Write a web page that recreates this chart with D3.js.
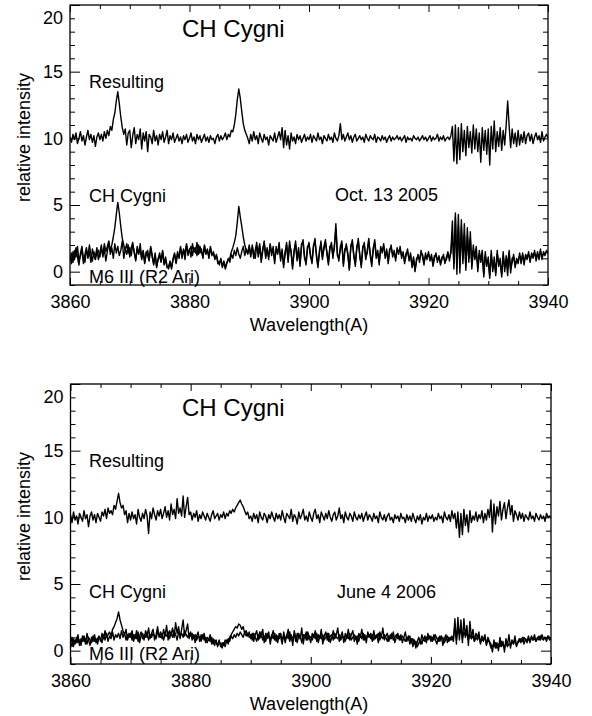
<!DOCTYPE html>
<html>
<head>
<meta charset="utf-8">
<script src="https://cdn.jsdelivr.net/npm/d3@7/dist/d3.min.js"></script>
<style>
  body { margin:0; background:#fff; }
  svg text { font-family: 'Liberation Sans', Arial, sans-serif; fill:#000; }
</style>
</head>
<body>
<div id="viz-container"></div>
<script>
// spectra are sampled every 0.25 A from 3860 A
let wlStart = 3860;
let wlStep = 0.25;

let xTicks = [3860, 3880, 3900, 3920, 3940];
let yTicks = [0, 5, 10, 15, 20];

// ---- Oct. 13 2005 ----
let resultOct = [
  10.1,9.7,10.3,9.9,10.4,9.6,10.0,10.5,9.8,10.2,9.5,10.1,10.6,9.9,10.3,9.7,10.2,9.4,10.1,10.4,
  9.9,10.3,9.8,10.5,10.0,10.6,10.2,10.9,10.6,11.4,11.9,12.8,13.5,12.6,11.6,10.8,10.3,10.7,9.5,10.4,
  10.6,9.3,10.2,10.8,9.6,10.3,9.9,10.7,9.2,10.4,9.8,10.5,9.0,10.3,10.1,9.6,10.6,9.8,10.2,9.5,
  10.3,9.9,10.5,9.7,10.1,10.6,9.6,10.2,9.9,10.4,9.7,10.0,10.3,9.8,10.1,9.6,10.2,9.9,10.3,9.7,
  10.0,10.4,9.8,10.1,9.6,10.3,9.9,10.2,9.7,10.0,10.3,9.8,10.1,9.7,10.2,9.9,10.0,9.6,10.1,10.3,
  9.8,10.2,9.9,10.1,10.4,9.9,10.3,10.1,10.6,10.5,11.0,11.8,12.9,13.7,13.0,12.0,11.1,10.6,10.3,10.0,
  9.6,10.3,9.8,10.5,9.9,10.2,9.6,10.4,10.0,9.7,10.3,9.9,10.1,9.5,10.2,10.0,9.8,10.4,9.7,10.1,
  10.5,9.9,10.8,9.3,10.6,9.5,10.2,9.2,10.4,9.8,10.1,9.6,10.3,9.9,10.2,9.7,10.0,10.3,9.8,10.1,
  9.9,10.3,9.7,10.2,10.0,9.8,10.4,9.9,10.1,9.6,10.2,10.0,9.8,10.3,9.9,10.1,9.7,10.4,10.0,9.8,
  10.2,11.1,9.9,10.3,9.8,10.1,10.4,9.9,10.2,9.7,10.1,10.3,9.8,10.0,10.2,9.9,10.1,9.7,10.3,10.0,
  9.8,10.2,10.0,9.9,10.3,9.7,10.1,10.0,9.8,10.2,9.9,10.1,9.7,10.0,10.2,9.8,10.1,9.9,10.0,10.2,
  9.9,10.1,9.8,10.0,10.2,9.7,10.1,9.9,10.0,9.8,10.2,10.0,9.9,10.1,9.8,10.0,10.2,9.9,10.1,9.8,
  10.0,10.2,9.8,10.1,9.9,10.0,10.3,9.8,10.1,9.9,10.2,9.8,10.0,10.1,9.9,10.2,10.9,8.3,11.0,8.1,
  10.8,8.4,11.1,9.0,10.6,8.7,10.9,9.3,10.5,8.9,11.0,9.2,10.7,9.0,10.4,8.2,10.8,9.1,10.6,8.8,
  10.7,8.0,10.9,9.2,11.3,9.0,10.5,9.4,10.8,9.1,10.6,9.5,11.0,12.8,10.9,9.3,10.7,9.6,10.4,9.4,
  10.6,9.5,10.3,9.7,10.5,9.6,10.2,10.4,9.8,10.3,9.6,10.1,10.4,9.9,10.2,9.7,10.5,9.8,10.1,10.3,
  10.0
];
let chCygOct = [
  0.9,1.4,0.7,1.6,1.1,1.9,0.8,1.2,1.6,0.6,1.3,1.8,1.0,1.5,0.7,1.7,1.2,0.9,1.4,1.6,
  1.1,1.7,1.3,2.1,1.5,1.9,2.3,1.6,2.0,2.6,3.3,4.3,5.2,4.4,3.4,2.5,2.0,1.6,2.1,1.4,
  1.8,1.2,2.0,1.5,0.8,1.9,1.4,1.7,0.9,1.5,0.7,1.3,1.6,0.9,1.8,1.1,0.6,1.4,0.4,0.9,
  1.2,0.7,1.5,0.5,0.9,0.3,0.4,0.8,0.2,1.0,1.4,0.6,1.3,1.1,1.9,1.0,1.7,1.3,2.1,1.2,
  1.6,1.9,1.2,1.8,1.4,2.2,1.3,1.9,1.5,1.1,2.0,1.4,1.7,1.0,1.9,1.3,1.4,1.0,1.2,0.6,
  0.7,0.9,0.4,0.8,0.3,0.7,0.9,1.0,1.5,1.8,2.2,2.7,3.7,4.9,4.1,3.4,2.6,2.0,1.6,1.3,
  1.8,1.1,2.0,1.4,1.0,1.9,1.5,2.1,0.9,1.7,2.2,1.0,1.6,1.1,2.0,1.2,1.9,0.8,1.6,1.4,
  1.9,1.0,1.5,0.5,1.3,2.2,0.7,2.0,1.6,0.4,1.4,2.3,0.8,1.6,0.6,2.1,2.2,1.0,0.7,1.9,
  2.0,1.1,0.8,2.0,2.3,1.3,0.5,1.4,2.3,1.1,1.7,2.2,1.5,0.7,1.9,2.0,1.2,1.8,3.6,1.2,
  1.0,1.7,2.1,0.6,1.7,1.9,1.4,0.1,2.0,2.2,1.3,0.4,1.7,2.5,1.1,0.5,1.9,2.0,1.1,1.4,
  2.3,1.4,0.6,1.6,2.4,1.2,1.4,0.7,1.7,1.6,1.9,1.2,1.5,0.8,1.7,1.8,1.3,1.4,1.0,1.6,
  1.5,1.7,1.2,1.3,0.8,1.4,1.5,1.0,1.2,0.5,1.1,0.0,1.0,1.1,0.9,1.4,1.3,0.7,1.2,1.1,
  1.3,1.0,1.1,0.6,1.2,1.2,0.9,1.0,0.7,1.1,1.1,0.8,0.9,1.3,1.0,1.4,2.9,0.6,4.4,0.3,
  4.3,-0.1,3.4,0.9,3.6,0.4,2.7,0.7,3.0,0.2,1.6,1.2,1.9,0.0,1.3,1.0,1.6,-0.4,1.2,0.7,
  0.8,-0.5,1.6,0.0,1.1,-0.3,1.3,0.7,0.6,-0.2,1.5,0.0,1.2,0.5,1.6,-0.1,1.0,1.1,0.5,0.8,
  0.9,1.2,0.6,1.4,0.8,1.1,1.2,1.3,0.9,1.2,1.3,1.4,1.0,1.5,0.9,1.5,1.2,1.3,1.4,1.5,
  1.5
];
let m6Oct = [
  1.2,0.6,1.5,0.9,1.8,1.1,0.5,1.4,1.9,1.0,0.7,1.6,1.2,2.0,1.3,0.8,1.5,1.1,1.8,0.9,
  1.4,2.0,1.1,1.7,0.8,1.5,2.2,1.3,1.8,1.0,2.1,1.4,1.9,1.2,1.6,2.3,1.0,1.7,1.3,2.0,
  1.1,1.8,2.2,1.4,0.9,1.7,1.3,2.1,1.0,1.6,0.6,1.5,1.2,0.8,1.9,1.3,0.5,1.2,0.3,1.0,
  1.4,0.8,1.6,0.6,1.1,0.4,0.2,0.7,0.3,0.9,1.3,0.7,1.5,1.0,1.8,1.2,1.6,0.9,2.0,1.4,
  1.7,1.1,2.1,1.5,1.8,1.2,2.0,1.4,1.7,1.0,1.9,1.3,1.6,1.1,1.8,1.2,1.5,0.9,1.3,0.8,
  0.5,1.0,0.3,0.7,0.2,0.6,1.0,0.7,1.3,1.0,1.6,1.2,1.8,1.3,1.0,1.5,1.9,1.2,1.7,1.4,
  2.0,1.3,1.8,1.0,1.6,2.2,1.1,1.9,0.7,1.5,2.3,1.2,1.8,0.9,2.1,1.4,1.7,0.6,1.9,1.3,
  2.2,0.8,1.7,0.3,1.5,2.0,0.9,2.3,1.4,0.2,1.6,2.1,1.0,1.8,0.4,1.9,2.4,1.2,0.5,1.7,
  2.2,1.3,0.6,1.8,2.5,1.1,0.3,1.6,2.1,0.9,1.9,2.4,1.3,0.5,1.7,2.2,1.0,2.0,3.2,1.4,
  0.8,1.9,2.3,0.4,1.5,2.1,1.2,0.2,1.8,2.4,1.1,0.6,1.9,2.3,1.3,0.3,1.7,2.2,0.9,1.6,
  2.5,1.2,0.4,1.8,2.2,1.0,1.6,0.5,1.9,1.4,2.1,1.0,1.7,0.6,1.5,2.0,1.1,1.6,0.8,1.8,
  1.3,1.9,1.0,1.5,0.6,1.2,1.7,0.8,1.4,0.3,0.9,0.1,0.8,1.3,0.7,1.6,1.1,0.5,1.4,0.9,
  1.5,0.8,1.3,0.4,1.0,1.4,0.7,1.2,0.5,0.9,1.3,0.6,1.1,1.5,0.8,1.6,3.8,0.2,4.1,-0.2,
  3.5,0.4,3.9,0.6,2.8,0.1,3.3,1.0,2.5,0.5,2.0,0.9,1.4,0.3,1.6,0.7,1.2,-0.2,1.5,0.4,
  1.1,-0.3,1.3,0.2,0.8,-0.1,1.6,0.4,1.0,-0.4,1.2,0.3,0.9,-0.3,1.4,0.2,0.7,1.3,0.3,1.0,
  0.6,1.4,0.8,1.2,0.5,1.3,0.9,1.5,0.7,1.4,1.0,1.6,0.8,1.3,1.1,1.7,0.9,1.5,1.2,1.6,
  1.3
];

// ---- June 4 2006 ----
let resultJune = [
  10.2,9.6,10.4,9.8,10.1,9.5,10.3,10.0,9.7,10.5,9.9,10.2,9.3,10.1,10.4,9.8,10.2,9.6,10.3,10.0,
  9.7,10.4,10.1,10.6,9.9,10.7,10.3,10.5,10.2,10.9,10.6,11.2,11.8,11.1,10.7,10.9,10.2,10.5,9.6,10.3,
  9.8,10.4,9.9,10.2,9.5,10.6,10.0,9.7,10.3,9.9,10.6,10.1,8.8,10.4,9.9,10.7,10.2,9.8,10.5,10.1,
  10.6,9.9,10.3,10.8,10.0,10.5,9.8,11.0,10.2,10.6,9.9,11.4,10.3,10.7,10.1,11.6,10.0,10.8,11.5,10.2,
  10.4,9.8,10.3,10.0,10.5,9.7,10.2,9.9,10.4,10.1,9.8,10.3,10.0,9.7,10.2,10.5,9.9,10.1,10.3,9.8,
  10.2,10.0,10.4,9.9,10.3,10.1,10.5,10.3,10.6,10.4,10.7,10.9,11.1,11.3,11.0,10.8,10.5,10.2,10.4,9.9,
  10.1,9.7,10.3,9.9,10.2,9.6,10.4,10.0,9.8,10.3,10.1,9.6,10.2,9.9,10.4,10.0,9.7,10.3,9.9,10.2,
  9.8,10.5,10.0,9.6,10.3,10.1,9.9,10.6,9.7,10.2,10.0,9.5,10.4,9.9,10.2,10.6,9.8,10.1,9.7,10.4,
  10.0,9.7,10.3,10.6,9.9,10.2,9.6,10.4,10.1,9.8,10.3,9.9,10.5,10.0,9.7,10.2,10.4,9.8,10.1,10.7,
  9.9,10.2,9.6,10.4,10.0,9.8,10.3,10.1,9.7,10.4,10.0,9.8,10.2,9.9,10.3,9.7,10.1,10.4,9.8,10.2,
  10.0,9.7,10.3,9.9,10.1,9.6,10.4,10.0,9.8,10.2,9.7,10.1,10.3,9.8,10.0,9.6,10.2,9.9,10.1,9.7,
  10.3,9.9,10.0,9.6,10.2,9.8,10.1,9.7,10.3,9.9,9.6,10.1,9.8,10.2,9.5,10.0,9.8,10.3,9.7,10.1,
  9.9,10.2,9.7,10.0,9.8,10.3,9.9,10.1,9.6,10.4,10.0,9.8,10.2,9.7,10.5,9.9,10.3,9.2,10.4,8.5,
  10.3,8.7,10.6,9.4,10.2,8.9,10.5,9.6,10.1,9.8,10.4,9.7,10.2,9.9,10.5,9.6,10.3,9.8,10.6,10.0,
  11.3,8.9,11.0,9.5,10.8,10.1,11.2,9.8,10.6,11.1,9.9,10.7,11.3,10.2,10.9,9.7,10.5,10.2,9.8,10.4,
  9.9,10.3,9.7,10.2,10.0,9.8,10.4,9.9,10.1,9.7,10.3,10.0,9.8,10.2,9.9,10.1,9.7,10.3,10.0,10.1,
  10.0
];
let chCygJune = [
  0.5,1.0,0.3,0.8,0.6,1.2,0.4,0.9,0.7,1.1,0.5,1.3,0.8,0.4,1.0,0.7,1.2,0.6,0.9,1.1,
  0.7,1.3,0.9,1.5,1.0,1.2,1.4,1.1,1.6,1.8,2.1,2.4,2.9,2.3,1.9,1.5,1.2,1.6,0.8,1.3,
  1.0,1.5,0.7,1.2,0.9,1.4,0.6,1.1,1.3,0.8,1.5,1.0,1.7,0.9,1.3,1.6,0.8,1.2,1.8,1.0,
  1.4,0.9,1.6,1.1,1.9,0.8,1.5,1.2,1.7,1.0,2.1,1.3,1.8,0.9,1.6,2.3,1.1,1.5,2.0,0.9,
  1.4,0.8,1.2,0.6,1.1,1.4,0.7,1.2,0.9,1.3,0.6,1.0,0.8,1.2,0.5,0.9,0.4,0.8,0.3,0.7,
  0.4,0.2,0.6,0.3,0.8,0.5,1.0,1.2,1.4,1.6,1.8,1.7,2.0,1.9,1.6,1.8,1.3,1.5,1.1,1.4,
  0.9,1.3,0.7,1.2,1.5,0.8,1.4,1.0,1.6,0.6,1.3,0.9,1.4,0.5,1.1,1.5,0.8,1.2,0.6,1.3,
  1.0,0.5,1.4,0.8,1.1,1.6,0.7,1.2,0.4,1.5,1.0,0.6,1.3,0.9,1.7,0.5,1.2,0.8,1.4,1.0,
  0.6,1.3,1.0,1.5,0.7,1.2,0.9,1.6,0.5,1.1,1.4,0.8,1.3,0.6,1.0,1.5,0.9,1.2,1.7,0.7,
  1.1,1.4,0.6,1.3,0.9,1.6,0.8,1.2,1.5,0.7,1.1,0.5,1.3,1.0,1.6,0.8,1.2,0.6,1.4,1.0,
  1.3,0.7,1.5,0.9,1.2,0.6,1.4,1.0,1.7,0.8,1.1,1.3,0.7,1.2,0.9,1.4,0.6,1.0,1.3,0.8,
  1.2,0.6,1.0,1.4,0.7,1.1,0.5,0.9,0.3,0.8,0.2,0.7,1.0,0.5,1.2,0.8,1.1,0.6,1.3,0.9,
  1.1,0.7,1.2,0.8,0.5,1.0,0.7,1.1,0.4,0.9,1.2,0.6,1.0,0.8,1.1,0.7,2.4,0.5,2.5,0.8,
  2.3,0.6,2.4,1.0,1.9,0.4,2.2,0.9,1.6,0.7,1.3,1.0,1.4,0.5,1.1,0.8,1.2,0.4,1.0,0.7,
  0.5,-0.1,0.8,0.2,0.6,0.0,1.0,0.3,0.7,-0.1,0.9,0.4,1.2,0.2,0.8,0.5,1.1,0.3,0.7,0.9,
  0.6,1.0,0.5,0.9,0.7,1.1,0.6,1.0,0.8,1.2,0.7,0.9,1.1,0.8,1.2,0.9,1.0,0.7,1.1,1.0,
  0.9
];
let m6June = [
  0.7,0.3,0.9,0.5,1.0,0.6,0.8,0.4,1.1,0.7,0.9,0.5,1.0,0.8,0.6,1.1,0.7,0.9,0.5,1.0,
  0.9,0.6,1.2,0.8,1.3,0.7,1.1,0.9,1.4,0.8,1.2,1.0,1.3,0.9,1.5,1.0,1.3,0.8,1.2,1.0,
  1.3,0.8,1.2,0.9,1.5,0.7,1.1,1.4,0.9,1.2,1.0,1.4,0.8,1.2,1.0,1.3,1.1,0.9,1.4,1.2,
  1.0,1.3,0.8,1.2,1.1,1.4,0.9,1.3,1.0,1.5,1.2,0.8,1.4,1.1,1.3,1.0,1.5,1.2,1.0,1.3,
  1.1,1.3,0.9,1.2,0.8,1.1,1.0,0.7,1.2,0.8,1.0,0.6,0.9,0.7,1.0,0.5,0.8,0.6,0.4,0.8,
  0.3,0.6,0.4,0.8,0.6,0.9,0.7,1.1,0.9,1.2,1.0,1.3,1.1,1.4,1.2,1.0,1.4,1.1,1.3,1.0,
  1.2,0.8,1.3,1.0,0.7,1.2,0.9,1.4,0.8,1.1,0.7,1.3,1.0,0.8,1.2,0.9,1.3,0.7,1.1,0.9,
  1.3,0.8,1.1,0.6,1.2,0.9,1.4,0.8,1.0,1.2,0.7,1.3,0.9,1.1,0.6,1.2,1.0,1.4,0.8,1.1,
  1.0,0.8,1.2,0.9,1.3,0.6,1.1,0.9,1.2,0.8,1.0,1.3,0.7,1.1,1.2,0.8,1.3,1.0,0.9,1.2,
  0.8,1.1,1.0,0.7,1.2,0.9,1.3,0.8,1.0,1.2,0.9,1.1,0.7,1.2,0.9,1.3,0.8,1.1,1.0,1.2,
  0.9,1.2,0.8,1.1,1.0,1.3,0.8,1.1,0.9,1.2,1.0,0.7,1.1,0.9,1.3,0.8,1.0,1.2,0.9,1.1,
  0.8,1.1,0.9,0.7,1.0,0.8,1.1,0.6,0.9,0.5,0.7,0.3,0.6,0.8,0.5,0.9,0.7,1.0,0.8,1.1,
  0.7,1.0,0.8,1.2,0.9,0.7,1.1,0.8,1.0,0.6,0.9,1.1,0.7,1.0,0.8,0.9,1.9,0.8,1.7,1.2,
  1.6,0.9,1.4,1.1,1.3,0.8,1.2,0.9,1.1,0.7,1.0,0.8,1.1,0.6,0.9,0.7,1.0,0.5,0.8,0.6,
  0.2,0.4,0.3,0.6,0.2,0.5,0.3,0.7,0.4,0.2,0.6,0.3,0.5,0.4,0.7,0.5,0.8,0.4,0.6,0.7,
  0.9,0.7,1.0,0.8,0.6,0.9,0.7,1.1,0.8,0.9,0.7,1.0,0.8,1.1,0.9,0.8,1.0,0.9,1.1,0.8,
  0.9
];

let viz = d3.select('#viz-container')
  .append('svg')
    .attr('width', 592)
    .attr('height', 716)
;

let panels = [
  {id:'oct', left:70, right:548, top:5, bottom:285, dy:0, series:[resultOct, chCygOct, m6Oct],
   date:'Oct. 13 2005', dateX:335, dateY:201, chY:202, m6Y:283},
  {id:'june', left:70.5, right:551, top:384, bottom:664, dy:379, series:[resultJune, chCygJune, m6June],
   date:'June 4 2006', dateX:337, dateY:598, chY:598, m6Y:660}
];

panels.forEach(drawPanel);

function drawPanel(p){
  let x = d3.scaleLinear().domain([3860, 3940]).range([p.left, p.right]);
  let y = d3.scaleLinear().domain([-1, 20]).range([p.bottom, p.top]);

  let xMinor = d3.range(3860, 3941, 5).filter(v => xTicks.indexOf(v) < 0);
  let yMinor = d3.range(-1, 21, 1).filter(v => yTicks.indexOf(v) < 0);

  let g = viz.append('g');

  // ticks on all four sides, pointing inwards
  function axisStyle(sel){
    sel.select('.domain').remove();
    sel.selectAll('line').attr('stroke', '#000').attr('stroke-width', 1);
    sel.selectAll('text').attr('font-size', 18).attr('font-family', "'Liberation Sans', Arial, sans-serif");
  }

  g.append('g').attr('transform', 'translate(0,' + p.bottom + ')')
    .call(d3.axisBottom(x).tickValues(xTicks).tickSizeInner(-7).tickSizeOuter(0).tickPadding(10).tickFormat(d3.format('d')))
    .call(axisStyle);
  g.append('g').attr('transform', 'translate(0,' + p.bottom + ')')
    .call(d3.axisBottom(x).tickValues(xMinor).tickSizeInner(-4).tickSizeOuter(0).tickFormat(''))
    .call(axisStyle);
  g.append('g').attr('transform', 'translate(0,' + p.top + ')')
    .call(d3.axisTop(x).tickValues(xTicks).tickSizeInner(-7).tickSizeOuter(0).tickFormat(''))
    .call(axisStyle);
  g.append('g').attr('transform', 'translate(0,' + p.top + ')')
    .call(d3.axisTop(x).tickValues(xMinor).tickSizeInner(-4).tickSizeOuter(0).tickFormat(''))
    .call(axisStyle);

  g.append('g').attr('transform', 'translate(' + p.left + ',0)')
    .call(d3.axisLeft(y).tickValues(yTicks).tickSizeInner(-10).tickSizeOuter(0).tickPadding(7))
    .call(axisStyle)
    .selectAll('text')
      .attr('dy', d => d == 20 ? '1.05em' : '0.32em');   // top label sits inside, like the original
  g.append('g').attr('transform', 'translate(' + p.left + ',0)')
    .call(d3.axisLeft(y).tickValues(yMinor).tickSizeInner(-5).tickSizeOuter(0).tickFormat(''))
    .call(axisStyle);
  g.append('g').attr('transform', 'translate(' + p.right + ',0)')
    .call(d3.axisRight(y).tickValues(yTicks).tickSizeInner(-10).tickSizeOuter(0).tickFormat(''))
    .call(axisStyle);
  g.append('g').attr('transform', 'translate(' + p.right + ',0)')
    .call(d3.axisRight(y).tickValues(yMinor).tickSizeInner(-5).tickSizeOuter(0).tickFormat(''))
    .call(axisStyle);

  g.append('rect')
    .attr('x', p.left).attr('y', p.top)
    .attr('width', p.right - p.left).attr('height', p.bottom - p.top)
    .attr('fill', 'none').attr('stroke', '#000').attr('stroke-width', 1.3);

  // axis titles
  g.append('text')
    .attr('transform', 'translate(30,' + (137.5 + p.dy) + ') rotate(-90)')
    .attr('text-anchor', 'middle').attr('font-size', 18)
    .text('relative intensity');
  g.append('text')
    .attr('x', 309).attr('y', 331 + p.dy)
    .attr('text-anchor', 'middle').attr('font-size', 18)
    .text('Wavelength(A)');

  // labels inside the plot
  g.append('text').attr('x', 182).attr('y', 37 + p.dy).attr('font-size', 24).text('CH Cygni');
  g.append('text').attr('x', 89).attr('y', 88 + p.dy).attr('font-size', 18).text('Resulting');
  g.append('text').attr('x', 89).attr('y', p.chY).attr('font-size', 18).text('CH Cygni');
  g.append('text').attr('x', p.dateX).attr('y', p.dateY).attr('font-size', 18).text(p.date);
  g.append('text').attr('x', 89).attr('y', p.m6Y).attr('font-size', 18).text('M6 III (R2 Ari)');

  // spectra
  viz.append('clipPath').attr('id', 'clip-' + p.id)
    .append('rect')
      .attr('x', p.left).attr('y', p.top)
      .attr('width', p.right - p.left).attr('height', p.bottom - p.top);

  let line = d3.line()
    .x((d, i) => x(wlStart + i * wlStep))
    .y(d => y(d));

  g.append('g').attr('clip-path', 'url(#clip-' + p.id + ')')
    .selectAll('path').data(p.series).enter()
    .append('path')
      .attr('d', line)
      .attr('fill', 'none')
      .attr('stroke', '#000')
      .attr('stroke-width', 1.4)
      .attr('stroke-linejoin', 'round');
}
</script>
</body>
</html>
